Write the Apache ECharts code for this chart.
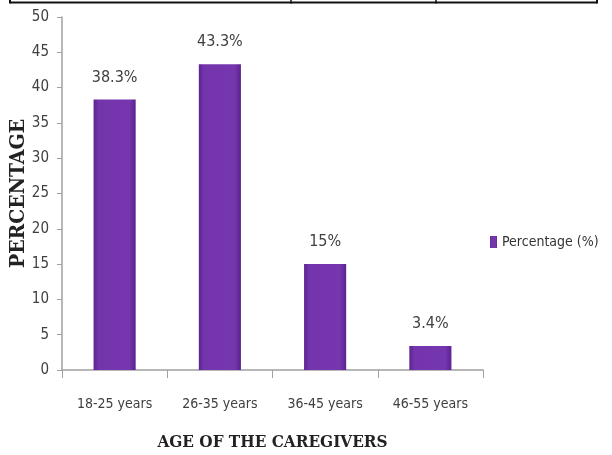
<!DOCTYPE html>
<html>
<head>
<meta charset="utf-8">
<script src="https://cdn.jsdelivr.net/npm/echarts@6/dist/echarts.min.js"></script>
<style>html,body{margin:0;padding:0;background:#fff}#c{width:612px;height:455px}</style>
</head>
<body>
<div id="c"></div>
<script>
const categories = ['18-25 years', '26-35 years', '36-45 years', '46-55 years'];
const values = [38.3, 43.3, 15, 3.4];
const valueLabels = ['38.3%', '43.3%', '15%', '3.4%'];
const seriesName = 'Percentage (%)';
const yTicks = { min: 0, max: 50, interval: 5 };

const narrow = '"DejaVu Sans Condensed", "Liberation Sans Narrow", sans-serif';
const serif = '"DejaVu Serif Condensed", "Liberation Serif", serif';
const purple = new echarts.graphic.LinearGradient(0, 0, 1, 0, [
  { offset: 0, color: '#5c2490' },
  { offset: 0.12, color: '#7434ac' },
  { offset: 0.85, color: '#7636ae' },
  { offset: 1, color: '#5a2290' }
]);

const chart = echarts.init(document.getElementById('c'));
chart.setOption({
  animation: false,
  backgroundColor: '#fff',
  grid: { left: 62, right: 129, top: 17, bottom: 85, containLabel: false, outerBoundsMode: 'none' },
  legend: {
    data: [seriesName],
    left: 485, top: 230,
    itemWidth: 7, itemHeight: 12, itemGap: 4,
    icon: 'rect',
    textStyle: { fontFamily: narrow, fontSize: 14, color: '#333' }
  },
  xAxis: {
    type: 'category',
    data: categories,
    name: 'AGE OF THE CAREGIVERS',
    nameLocation: 'middle',
    nameGap: 64,
    nameMoveOverlap: false,
    nameTextStyle: { fontFamily: serif, fontWeight: 'bold', fontSize: 17, color: '#222' },
    axisLine: { lineStyle: { color: '#a0a0a0', width: 1.5 } },
    axisTick: { show: true, length: 8, lineStyle: { color: '#a0a0a0' } },
    axisLabel: { fontFamily: narrow, fontSize: 14, color: '#404040', margin: 27, interval: 0 }
  },
  yAxis: {
    type: 'value',
    min: yTicks.min, max: yTicks.max, interval: yTicks.interval,
    name: 'PERCENTAGE',
    nameLocation: 'middle',
    nameGap: 33,
    nameMoveOverlap: false,
    nameTextStyle: { fontFamily: serif, fontWeight: 'bold', fontSize: 21, color: '#222' },
    splitLine: { show: false },
    axisLine: { show: true, lineStyle: { color: '#a0a0a0', width: 1.5 } },
    axisTick: { show: true, length: 5, lineStyle: { color: '#a0a0a0' } },
    axisLabel: { fontFamily: narrow, fontSize: 15, color: '#404040', margin: 13 }
  },
  series: [{
    name: seriesName,
    type: 'bar',
    data: values,
    barWidth: '40%',
    itemStyle: { color: purple },
    label: {
      show: true, position: 'top', distance: 14,
      fontFamily: narrow, fontSize: 16, color: '#404040',
      formatter: p => valueLabels[p.dataIndex]
    }
  }],
  graphic: [
    { type: 'line', shape: { x1: 10, y1: 2.5, x2: 597, y2: 2.5 }, style: { stroke: '#111', lineWidth: 2 } },
    { type: 'line', shape: { x1: 10, y1: 0, x2: 10, y2: 3.5 }, style: { stroke: '#111', lineWidth: 2 } },
    { type: 'line', shape: { x1: 291, y1: 0, x2: 291, y2: 3.5 }, style: { stroke: '#111', lineWidth: 1.5 } },
    { type: 'line', shape: { x1: 436, y1: 0, x2: 436, y2: 3.5 }, style: { stroke: '#111', lineWidth: 1.5 } },
    { type: 'line', shape: { x1: 597, y1: 0, x2: 597, y2: 3.5 }, style: { stroke: '#111', lineWidth: 2 } }
  ]
});
</script>
</body>
</html>
